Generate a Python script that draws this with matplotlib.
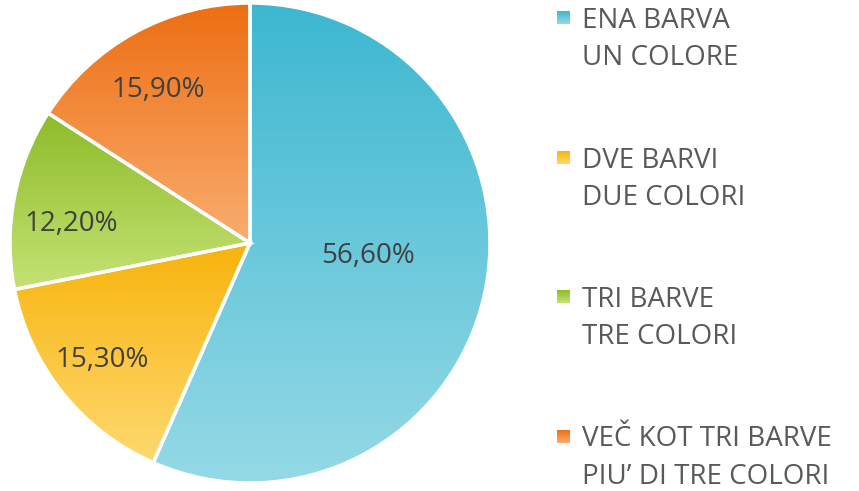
import numpy as np
import matplotlib.pyplot as plt
from matplotlib.colors import LinearSegmentedColormap
from matplotlib.patches import Rectangle

# data
values = [56.6, 15.3, 12.2, 15.9]
legend_lines = [("ENA BARVA", "UN COLORE"),
                ("DVE BARVI", "DUE COLORI"),
                ("TRI BARVE", "TRE COLORI"),
                ("VEČ KOT TRI BARVE", "PIU’ DI TRE COLORI")]

# gradient colours (top, bottom) for each slice
grads = [("#3db7d1", "#95d9e6"),
         ("#f8b30c", "#fed970"),
         ("#8ebb28", "#c4e275"),
         ("#ed6e12", "#f9ad70")]

# label placement: fraction of radius, extra pixel offset
pct_dist = [0.49, 0.76, 0.76, 0.76]
pct_off = [(3, 11), (-6, -3), (0, -15), (-4, -7)]

W, H = 859, 491
fig = plt.figure(figsize=(W / 100, H / 100), dpi=100)
ax = fig.add_axes([0, 0, 1, 1])

cx, cy, r = 250, H - 243, 240
wedges, _ = ax.pie(values, startangle=90, counterclock=False,
                   center=(cx, cy), radius=r,
                   wedgeprops=dict(facecolor='none', edgecolor='white',
                                   linewidth=2.5, zorder=3))

ramp = np.linspace(0, 1, 256).reshape(-1, 1)
for w, (c0, c1), d, (ox, oy), v in zip(wedges, grads, pct_dist, pct_off, values):
    cmap = LinearSegmentedColormap.from_list('g', [c0, c1])
    bb = w.get_path().get_extents()
    im = ax.imshow(ramp, cmap=cmap, extent=[bb.x0, bb.x1, bb.y0, bb.y1],
                   origin='upper', aspect='auto', zorder=2)
    im.set_clip_path(w)
    ang = np.deg2rad((w.theta1 + w.theta2) / 2)
    tx = cx + d * r * np.cos(ang) + ox
    ty = cy + d * r * np.sin(ang) + oy
    ax.text(tx, ty, f"{v:.2f}".replace('.', ',') + '%', ha='center', va='center',
            fontsize=20, color='#404040', family='Open Sans', zorder=4)

# legend
for i, ((l1, l2), (c0, c1)) in enumerate(zip(legend_lines, grads)):
    base = 28 + i * 139.5
    sq = Rectangle((557, H - base + 4), 13, 13, facecolor='none', edgecolor='none')
    ax.add_patch(sq)
    cmap = LinearSegmentedColormap.from_list('g', [c0, c1])
    im = ax.imshow(ramp, cmap=cmap, extent=[557, 570, H - base + 4, H - base + 17],
                   origin='upper', aspect='auto', zorder=2)
    im.set_clip_path(sq)
    ax.text(582, H - base, l1, ha='left', va='baseline', fontsize=20,
            color='#595959', family='Open Sans')
    ax.text(582, H - base - 37, l2, ha='left', va='baseline', fontsize=20,
            color='#595959', family='Open Sans')

ax.set_xlim(0, W)
ax.set_ylim(0, H)
ax.set_aspect('equal')
ax.axis('off')

fig.savefig('out.png', dpi=100)
